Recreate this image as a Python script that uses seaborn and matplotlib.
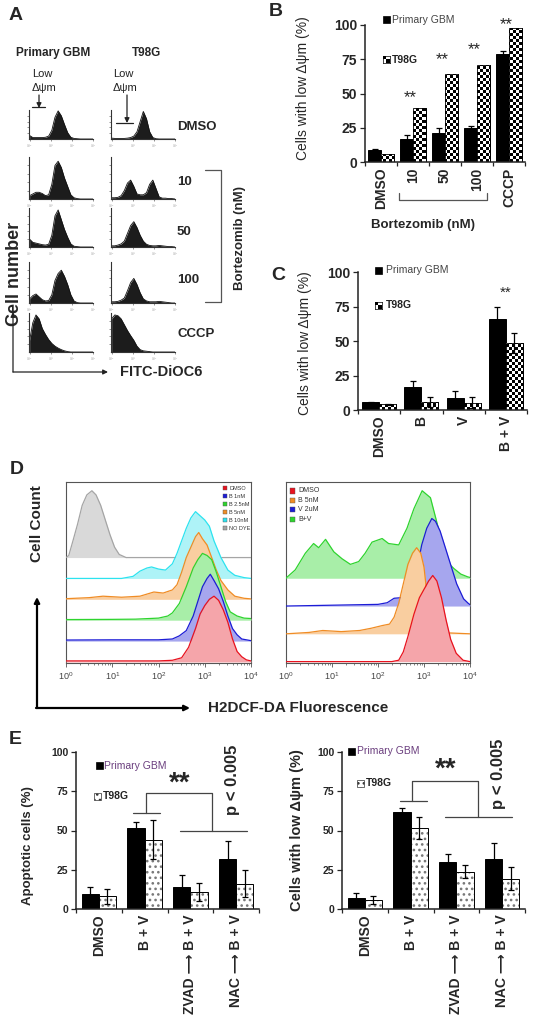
import numpy as np
import pandas as pd
import seaborn as sns
import matplotlib.pyplot as plt
import matplotlib.colors as mcolors
from matplotlib.lines import Line2D
from matplotlib.patches import Rectangle, FancyArrowPatch
from matplotlib.ticker import LogLocator, NullFormatter

W, H = 536, 1034

# --------------------------------------------------------------------------- #
# Data                                                    #
# --------------------------------------------------------------------------- #
# A: DiOC6 histograms, x in decades, height as fraction of the frame
A_X = [0, .15, .3, .45, .6, .75, .9, 1.05, 1.2, 1.35, 1.5, 1.65, 1.8, 1.95,
       2.1, 2.25, 2.4, 2.55, 2.7, 2.85, 3.0]
A_ROWS = ["DMSO", "10", "50", "100", "CCCP"]
A_GBM = [
    [0.12, 0.05, 0.05, 0.05, 0.05, 0.06, 0.1, 0.3, 0.75, 0.97, 0.8, 0.5, 0.22, 0.06, 0.02, 0.01, 0, 0, 0, 0, 0],
    [0.08, 0.12, 0.16, 0.16, 0.13, 0.08, 0.1, 0.35, 0.8, 0.9, 0.75, 0.5, 0.3, 0.1, 0.03, 0.01, 0, 0, 0, 0, 0],
    [0.2, 0.12, 0.1, 0.08, 0.06, 0.05, 0.07, 0.3, 0.8, 0.95, 0.7, 0.45, 0.25, 0.08, 0.02, 0.01, 0, 0, 0, 0, 0],
    [0.1, 0.18, 0.22, 0.15, 0.08, 0.05, 0.06, 0.2, 0.55, 0.72, 0.8, 0.65, 0.45, 0.2, 0.05, 0.01, 0, 0, 0, 0, 0],
    [0.3, 0.75, 0.95, 0.85, 0.6, 0.45, 0.32, 0.22, 0.15, 0.1, 0.06, 0.03, 0.01, 0, 0, 0, 0, 0, 0, 0, 0],
]
A_T98G = [
    [0.03, 0.02, 0.02, 0.02, 0.02, 0.03, 0.05, 0.1, 0.25, 0.6, 0.95, 0.7, 0.25, 0.05, 0.01, 0, 0, 0, 0, 0, 0],
    [0.03, 0.03, 0.04, 0.08, 0.2, 0.38, 0.45, 0.3, 0.12, 0.1, 0.1, 0.15, 0.35, 0.45, 0.25, 0.05, 0.02, 0.02, 0.01, 0.01, 0],
    [0.03, 0.03, 0.05, 0.08, 0.15, 0.35, 0.55, 0.65, 0.5, 0.3, 0.15, 0.07, 0.04, 0.03, 0.03, 0.04, 0.03, 0.02, 0.01, 0.01, 0],
    [0.03, 0.03, 0.04, 0.07, 0.12, 0.3, 0.5, 0.6, 0.45, 0.25, 0.1, 0.05, 0.03, 0.03, 0.03, 0.04, 0.03, 0.02, 0.01, 0, 0],
    [0.85, 0.95, 0.93, 0.85, 0.7, 0.55, 0.42, 0.3, 0.15, 0.06, 0.03, 0.02, 0.01, 0, 0, 0, 0, 0, 0, 0, 0],
]

# B: low mitochondrial potential, bortezomib dose
B_CATS = ["DMSO", "10", "50", "100", "CCCP"]
B_GBM = [9, 17, 21.5, 25, 79]
B_GBM_ERR = [0.5, 2.5, 3, 1.5, 2]
B_T98G = [5.5, 39.5, 64, 71, 98]
B_STARS = [None, 47, 74.5, 82, 100]

# C: bortezomib / vorinostat
C_CATS = ["DMSO", "B", "V", "B + V"]
C_GBM = [5.5, 16.4, 9, 66]
C_GBM_ERR = [0.5, 4.5, 5, 9]
C_T98G = [4, 6, 5.3, 48.5]
C_T98G_ERR = [0.5, 3.5, 4, 7]

# D: H2DCF-DA histograms (x in decades, height in stacking offsets)
D_LEFT_NAMES = ["DMSO", "B 1nM", "B 2.5nM", "B 5nM", "B 10nM", "NO DYE"]
D_LEFT_X = [
    [0, 1, 2, 2.3, 2.5, 2.65, 2.8, 2.9, 3.0, 3.1, 3.2, 3.3, 3.4, 3.5, 3.6, 3.7, 3.8, 3.9, 4.0],
    [0, 1, 2, 2.3, 2.45, 2.6, 2.75, 2.85, 2.95, 3.05, 3.12, 3.2, 3.3, 3.4, 3.5, 3.6, 3.7, 3.8, 4.0],
    [0, 1, 1.5, 2.0, 2.2, 2.3, 2.45, 2.6, 2.75, 2.85, 2.95, 3.05, 3.15, 3.25, 3.35, 3.45, 3.55, 3.7, 3.85, 4.0],
    [0, 0.5, 0.8, 1.2, 1.6, 1.9, 2.1, 2.3, 2.4, 2.5, 2.6, 2.72, 2.8, 2.87, 2.95, 3.05, 3.15, 3.25, 3.35, 3.5, 3.65, 3.85, 4.0],
    [0, 1.2, 1.45, 1.6, 1.75, 1.85, 2.0, 2.15, 2.3, 2.4, 2.5, 2.6, 2.7, 2.8, 2.9, 3.0, 3.1, 3.2, 3.35, 3.5, 3.65, 3.85, 4.0],
    [0, 0.06, 0.15, 0.25, 0.35, 0.45, 0.56, 0.65, 0.75, 0.85, 0.95, 1.05, 1.15, 1.3, 4.0],
]
D_LEFT_H = [
    [0.05, 0.05, 0.05, 0.08, 0.2, 0.7, 1.6, 2.3, 2.7, 3.0, 3.15, 2.95, 2.5, 1.9, 1.1, 0.5, 0.25, 0.1, 0.05],
    [0.05, 0.06, 0.06, 0.1, 0.25, 0.5, 1.2, 1.9, 2.6, 3.0, 3.2, 2.9, 2.5, 1.9, 1.2, 0.6, 0.3, 0.1, 0.02],
    [0.03, 0.04, 0.05, 0.1, 0.2, 0.35, 0.8, 1.6, 2.5, 2.9, 3.2, 3.1, 2.9, 2.3, 1.6, 0.9, 0.4, 0.2, 0.1, 0.08],
    [0.03, 0.08, 0.15, 0.1, 0.15, 0.35, 0.3, 0.45, 0.7, 1.3, 2.0, 2.6, 3.0, 3.2, 2.9, 2.6, 2.0, 1.4, 0.9, 0.45, 0.15, 0.05, 0.02],
    [0.0, 0.0, 0.1, 0.35, 0.5, 0.55, 0.45, 0.4, 0.7, 1.2, 1.8, 2.4, 2.9, 3.2, 3.0, 2.8, 2.5, 1.8, 1.0, 0.4, 0.15, 0.04, 0.0],
    [0, 0.1, 0.8, 1.6, 2.5, 3.0, 3.2, 3.0, 2.5, 1.8, 1.1, 0.5, 0.15, 0, 0],
]
D_RIGHT_NAMES = ["DMSO", "B 5nM", "V 2uM", "B+V"]
D_RIGHT_X = [
    [0, 2.3, 2.45, 2.55, 2.65, 2.78, 2.9, 3.0, 3.1, 3.19, 3.28, 3.38, 3.48, 3.58, 3.7, 3.85, 4.0],
    [0, 0.5, 0.8, 1.2, 1.6, 1.85, 2.1, 2.25, 2.35, 2.45, 2.55, 2.65, 2.75, 2.84, 2.93, 3.0, 3.06, 3.13, 3.2, 3.3, 4.0],
    [0, 1.0, 2.0, 2.2, 2.35, 2.5, 2.7, 2.84, 2.95, 3.06, 3.17, 3.25, 3.35, 3.53, 3.71, 3.86, 3.96, 4.0],
    [0, 0.03, 0.2, 0.42, 0.6, 0.71, 0.86, 1.04, 1.22, 1.4, 1.58, 1.72, 1.87, 2.09, 2.23, 2.45, 2.63, 2.78,
     2.96, 3.14, 3.25, 3.5, 3.65, 3.8, 3.95, 4.0],
]
D_RIGHT_H = [
    [0.0, 0.0, 0.05, 0.35, 0.9, 1.7, 2.3, 2.6, 2.9, 3.1, 2.9, 2.3, 1.5, 0.8, 0.3, 0.05, 0.0],
    [0.0, 0.05, 0.12, 0.08, 0.12, 0.2, 0.3, 0.35, 0.6, 1.1, 1.8, 2.5, 2.9, 3.1, 2.9, 2.4, 1.5, 0.8, 0.3, 0.05, 0.0],
    [0.0, 0.03, 0.06, 0.12, 0.28, 0.3, 0.4, 1.27, 2.2, 2.8, 3.15, 3.05, 2.7, 1.75, 0.8, 0.26, 0.1, 0.05],
    [0.0, 0.05, 0.3, 0.9, 1.25, 1.1, 1.4, 0.95, 0.7, 0.5, 0.6, 0.9, 1.3, 1.43, 1.25, 1.2, 1.8, 2.5,
     3.15, 2.9, 2.2, 0.6, 0.35, 0.15, 0.05, 0.03],
]

# E: apoptosis and low mitochondrial potential with inhibitors
E_CATS = ["DMSO", "B + V", "ZVAD \u27f6 B + V", "NAC \u27f6 B + V"]
E_APO_GBM = [9.4, 51.5, 14, 32]
E_APO_GBM_ERR = [4.3, 4, 7.5, 11.6]
E_APO_T98G = [8, 44, 11, 16]
E_APO_T98G_ERR = [4.7, 12.4, 5.7, 8.6]
E_MMP_GBM = [7.3, 61.8, 29.7, 32]
E_MMP_GBM_ERR = [2.7, 2.7, 5.6, 9.9]
E_MMP_T98G = [5.8, 51.7, 23.7, 19.4]
E_MMP_T98G_ERR = [2.5, 7.1, 4.1, 7.1]

LINES = ["Primary GBM", "T98G"]

# --------------------------------------------------------------------------- #
# Style                                                                       #
# --------------------------------------------------------------------------- #
sns.set_style("ticks")
plt.rcParams['font.family'] = ['Liberation Sans', 'DejaVu Sans']
plt.rcParams['mathtext.fontset'] = 'stix'
plt.rcParams['hatch.linewidth'] = 1.1

fig = plt.figure(figsize=(W / 100, H / 100), dpi=100)


def ax_px(x0, y0, x1, y1):
    return fig.add_axes([x0 / W, 1 - y1 / H, (x1 - x0) / W, (y1 - y0) / H])


def txt(x, y, s, **kw):
    kw.setdefault('ha', 'left')
    kw.setdefault('va', 'center')
    return fig.text(x / W, 1 - y / H, s, **kw)


def line_px(xs, ys, color='#333', lw=0.9):
    fig.add_artist(Line2D([x / W for x in xs], [1 - y / H for y in ys],
                          transform=fig.transFigure, color=color, lw=lw))


def arrow_px(x0, y0, x1, y1, lw=0.9, ms=7, color='#222'):
    fig.add_artist(FancyArrowPatch((x0 / W, 1 - y0 / H), (x1 / W, 1 - y1 / H),
                                   transform=fig.transFigure, arrowstyle='-|>',
                                   mutation_scale=ms, lw=lw, color=color,
                                   shrinkA=0, shrinkB=0))


def rect_px(x, y, w, h, **kw):
    fig.add_artist(Rectangle((x / W, 1 - (y + h) / H), w / W, h / H,
                             transform=fig.transFigure, **kw))


def checker(nx, ny):
    return np.add.outer(np.arange(ny), np.arange(nx)) % 2


def checker_square(x, y, s):
    ax = ax_px(x, y, x + s, y + s)
    ax.imshow(checker(2, 2), cmap='gray', interpolation='nearest', aspect='auto')
    ax.set_xticks([])
    ax.set_yticks([])
    for sp in ax.spines.values():
        sp.set_linewidth(0.5)
        sp.set_color('black')


def checker_bars(ax, patches, cell=3.0):
    bb = ax.get_position()
    nx = int(round(bb.width * W / cell))
    ny = int(round(bb.height * H / cell))
    ext = list(ax.get_xlim()) + list(ax.get_ylim())
    for p in patches:
        im = ax.imshow(checker(nx, ny), cmap='gray', extent=ext, origin='lower',
                       interpolation='nearest', aspect='auto', zorder=p.get_zorder() + 0.1)
        im.set_clip_path(p)
        ax.add_patch(Rectangle(p.get_xy(), p.get_width(), p.get_height(),
                               fill=False, edgecolor='black', lw=0.6,
                               zorder=p.get_zorder() + 0.2))
    ax.set_xlim(ext[:2])
    ax.set_ylim(ext[2:])


def bar_panel(ax, cats, gbm, t98g, gbm_err, t98g_err, pattern, tick_fs, label_fs,
              width=0.8):
    n = len(cats)
    df = pd.DataFrame({'cond': cats * 2, 'val': gbm + t98g,
                       'line': [LINES[0]] * n + [LINES[1]] * n})
    sns.barplot(data=df, x='cond', y='val', hue='line', order=cats,
                hue_order=LINES, palette={LINES[0]: 'black', LINES[1]: 'white'},
                edgecolor='black', linewidth=0.7, width=width, errorbar=None,
                legend=False, ax=ax)
    ax.set_xlim(-0.5, n - 0.5)
    ax.set_ylim(0, 100)
    if pattern == 'checker':
        checker_bars(ax, list(ax.containers[1]))
    else:
        for p in ax.containers[1]:
            p.set_hatch(pattern)
            p._hatch_color = mcolors.to_rgba('#777777')
    for cont, errs in zip(ax.containers, [gbm_err, t98g_err]):
        for p, e in zip(cont, errs):
            if e:
                ax.errorbar(p.get_x() + p.get_width() / 2, p.get_height(), yerr=e,
                            fmt='none', ecolor='black', elinewidth=0.9,
                            capsize=2.5, capthick=0.9, zorder=5)
    ax.set_yticks([0, 25, 50, 75, 100])
    ax.set_xticks(range(n))
    ax.set_xticklabels(cats, rotation=90, fontweight='bold', fontsize=label_fs)
    ax.set_xticks(np.arange(-0.5, n), minor=True)
    ax.tick_params(axis='x', which='major', length=0, pad=4)
    ax.tick_params(axis='x', which='minor', length=3, width=0.9, direction='out')
    ax.tick_params(axis='y', length=3.5, width=0.9, labelsize=tick_fs, pad=2)
    for lab in ax.get_yticklabels():
        lab.set_fontweight('bold')
    ax.set_xlabel('')
    ax.set_ylabel('')
    sns.despine(ax=ax)
    for s in ('left', 'bottom'):
        ax.spines[s].set_linewidth(1.1)
        ax.spines[s].set_color('#222')


# --------------------------------------------------------------------------- #
# Panel A                                                                     #
# --------------------------------------------------------------------------- #
txt(16, 15, "A", fontsize=14, fontweight='bold', ha='center')
txt(53, 53, "Primary GBM", fontsize=8.5, fontweight='bold', ha='center')
txt(146, 53, "T98G", fontsize=8.5, fontweight='bold', ha='center')
for x in (32, 113):
    txt(x, 74, "Low", fontsize=8, color='#222')
    txt(x, 88, "\u0394\u03c8m", fontsize=8, color='#222')
line_px([32, 45], [107, 107], color='#222')
arrow_px(39, 95, 39, 108)
line_px([116, 133], [123, 123], color='#222')
arrow_px(127, 95, 127, 123)

A_COLS = [(29, 93), (111, 175)]
A_ROW_Y = [(110, 139), (157, 199), (208, 247), (262, 303), (313, 352)]
for (x0, x1), data in zip(A_COLS, [A_GBM, A_T98G]):
    for (y0, y1), h in zip(A_ROW_Y, data):
        ax = ax_px(x0, y0, x1, y1)
        ax.fill_between(A_X, h, color='#1c1c1c', lw=0)
        sns.lineplot(x=A_X, y=h, ax=ax, color='#111111', lw=0.6, estimator=None)
        ax.set_xlim(-0.03, 3.0)
        ax.set_ylim(0, 1.0)
        ax.set_xticks([0, 1, 2, 3])
        ax.set_xticklabels([r'$10^0$', r'$10^1$', r'$10^2$', r'$10^3$'])
        ax.set_yticks([0.2, 0.4, 0.6, 0.8])
        ax.set_yticklabels([])
        ax.tick_params(axis='both', length=1.5, width=0.5, color='#666',
                       labelsize=2.5, labelcolor='#999', pad=0.5)
        ax.set_xlabel('')
        ax.set_ylabel('')
        sns.despine(ax=ax)
        for s in ('left', 'bottom'):
            ax.spines[s].set_linewidth(0.8)
            ax.spines[s].set_color('#333')

for y, s in zip([127, 182, 232, 280, 334], A_ROWS):
    txt(177, y, s, fontsize=9.5, fontweight='bold')
line_px([205, 221, 221, 205], [170, 170, 302, 302], color='#555')
txt(240, 238, "Bortezomib (nM)", fontsize=9.5, fontweight='bold', rotation=90, ha='center')
txt(15, 274, "Cell number", fontsize=13, fontweight='bold', rotation=90, ha='center')
arrow_px(13, 372, 13, 312)
arrow_px(13, 372, 108, 372)
txt(120, 372, "FITC-DiOC6", fontsize=10.5, fontweight='bold')

# --------------------------------------------------------------------------- #
# Panel B                                                                     #
# --------------------------------------------------------------------------- #
txt(276, 12, "B", fontsize=14, fontweight='bold', ha='center')
axB = ax_px(365, 25, 525, 162)
bar_panel(axB, B_CATS, B_GBM, B_T98G, B_GBM_ERR, [0] * 5, 'checker', 10, 10)
for i, y in enumerate(B_STARS):
    if y is not None:
        axB.text(i - 0.1, y, "**", ha='center', va='center', fontsize=12)
txt(303, 88, "Cells with low \u0394\u03c8m (%)", fontsize=10, rotation=90, ha='center')
rect_px(383, 16, 7, 7, facecolor='black', edgecolor='black', lw=0.5)
txt(392, 20, "Primary GBM", fontsize=7.5, color='#444')
checker_square(383, 56, 7)
txt(392, 60, "T98G", fontsize=7.5, fontweight='bold', color='#222')
line_px([399, 399, 487, 487], [193, 200, 200, 193], color='#555')
txt(423, 225, "Bortezomib (nM)", fontsize=9.5, fontweight='bold', ha='center')

# --------------------------------------------------------------------------- #
# Panel C                                                                     #
# --------------------------------------------------------------------------- #
txt(278, 275, "C", fontsize=14, fontweight='bold', ha='center')
axC = ax_px(358, 272, 527, 410)
bar_panel(axC, C_CATS, C_GBM, C_T98G, C_GBM_ERR, C_T98G_ERR, 'checker', 10, 10)
axC.text(3, 85, "**", ha='center', va='center', fontsize=11)
txt(305, 343, "Cells with low \u0394\u03c8m (%)", fontsize=10, rotation=90, ha='center')
rect_px(375, 267, 7, 7, facecolor='black', edgecolor='black', lw=0.5)
txt(386, 270, "Primary GBM", fontsize=7.5, color='#444')
checker_square(375, 302, 7)
txt(386, 305, "T98G", fontsize=7.5, fontweight='bold', color='#222')

# --------------------------------------------------------------------------- #
# Panel D                                                                     #
# --------------------------------------------------------------------------- #
D_COLORS = {"DMSO": ('#e8121e', '#f5a5aa'), "B 1nM": ('#1c1cd6', '#a6a6ee'),
            "B 2.5nM": ('#2ed42e', '#a8eea8'), "B 5nM": ('#f08c24', '#f9cea0'),
            "B 10nM": ('#2ce3ef', '#aef3f7'), "NO DYE": ('#a5a5a5', '#d9d9d9'),
            "V 2uM": ('#1c1cd6', '#a6a6ee'), "B+V": ('#2ed42e', '#a8eea8')}

txt(17, 470, "D", fontsize=14, fontweight='bold', ha='center')


def flow_panel(ax, names, xs, hs, ymax):
    for k in reversed(range(len(names))):
        line_c, fill_c = D_COLORS[names[k]]
        xv = np.power(10.0, xs[k])
        yv = np.array(hs[k]) + k
        ax.fill_between(xv, k, yv, color=fill_c, lw=0, zorder=2 * (10 - k))
        ax.plot(xv, yv, color=line_c, lw=0.9, zorder=2 * (10 - k) + 1)
    ax.set_xscale('log')
    ax.set_xlim(1, 1e4)
    ax.set_ylim(-0.05, ymax)
    ax.set_yticks([])
    ax.xaxis.set_major_locator(LogLocator(base=10, numticks=10))
    ax.xaxis.set_minor_locator(LogLocator(base=10, subs=np.arange(2, 10), numticks=10))
    ax.xaxis.set_minor_formatter(NullFormatter())
    ax.tick_params(axis='x', which='major', length=3, width=0.6, color='#555',
                   labelsize=6.5, labelcolor='#444', pad=2)
    ax.tick_params(axis='x', which='minor', length=1.5, width=0.5, color='#555')
    for s in ax.spines.values():
        s.set_visible(True)
        s.set_linewidth(0.8)
        s.set_color('#555')


axDL = ax_px(66, 482, 251, 663)
flow_panel(axDL, D_LEFT_NAMES, D_LEFT_X, D_LEFT_H, 181 / 21)
axDR = ax_px(286, 482, 470, 663)
flow_panel(axDR, D_RIGHT_NAMES, D_RIGHT_X, D_RIGHT_H, 181 / 28)

for i, name in enumerate(D_LEFT_NAMES):
    rect_px(223, 486 + 8 * i, 4, 4, facecolor=D_COLORS[name][0], edgecolor='#555', lw=0.3)
    txt(229, 488 + 8 * i, name, fontsize=4, color='#333')
for i, name in enumerate(D_RIGHT_NAMES):
    rect_px(290, 488.5 + 9.4 * i, 5, 5, facecolor=D_COLORS[name][0], edgecolor='#555', lw=0.3)
    txt(298, 491 + 9.4 * i, name, fontsize=5, color='#333')

txt(37, 524, "Cell Count", fontsize=11, fontweight='bold', rotation=90, ha='center')
arrow_px(37, 708, 37, 597, lw=1.6, ms=8, color='black')
arrow_px(36, 708, 190, 708, lw=1.6, ms=8, color='black')
txt(208, 708, "H2DCF-DA Fluorescence", fontsize=11, fontweight='bold')

# --------------------------------------------------------------------------- #
# Panel E                                                                     #
# --------------------------------------------------------------------------- #
txt(15, 740, "E", fontsize=14, fontweight='bold', ha='center')

axEL = ax_px(76, 752, 259, 909)
bar_panel(axEL, E_CATS, E_APO_GBM, E_APO_T98G, E_APO_GBM_ERR, E_APO_T98G_ERR,
          '...', 7.5, 10, width=0.75)
axER = ax_px(342, 752, 525, 909)
bar_panel(axER, E_CATS, E_MMP_GBM, E_MMP_T98G, E_MMP_GBM_ERR, E_MMP_T98G_ERR,
          '...', 7.5, 10, width=0.75)

for ax, b in [(axEL, (61, 74, 50, 0.75, 1.34, 1.03, 2.47, 1.77, 3.24, 80, 82)),
              (axER, (69, 81.5, 58.5, 0.77, 1.36, 1.03, 2.47, 1.75, 3.22, 88.5, 86))]:
    y1, y2, y3, xa, xb, xm, xr, xc0, xc1, ys, yp = b
    kw = dict(color='#444', lw=0.9, clip_on=False)
    ax.plot([xa, xb], [y1, y1], **kw)
    ax.plot([xm, xm, xr, xr], [y1, y2, y2, y3], **kw)
    ax.plot([xc0, xc1], [y3, y3], **kw)
    ax.text(1.77, ys, "**", ha='center', va='center', fontsize=20, fontweight='bold',
            clip_on=False)
    ax.text(2.91, yp, "p < 0.005", ha='center', va='center', rotation=90,
            fontsize=12, fontweight='bold', clip_on=False)

txt(28, 846, "Apoptotic cells (%)", fontsize=9.5, fontweight='bold', rotation=90, ha='center')
txt(297, 830, "Cells with low \u0394\u03c8m (%)", fontsize=10.5, fontweight='bold',
    rotation=90, ha='center')

rect_px(96, 762, 6.5, 6.5, facecolor='black', edgecolor='black', lw=0.5)
txt(104, 766, "Primary GBM", fontsize=7.5, color='#6b3f7f')
rect_px(94, 793, 6.5, 6.5, facecolor='white', edgecolor='#333', lw=0.5, hatch='...')
txt(103, 796, "T98G", fontsize=7.5, fontweight='bold', color='#222')
rect_px(348, 748, 6.5, 6.5, facecolor='black', edgecolor='black', lw=0.5)
txt(357, 751, "Primary GBM", fontsize=7.5, color='#6b3f7f')
rect_px(357, 780, 6.5, 6.5, facecolor='white', edgecolor='#333', lw=0.5, hatch='...')
txt(366, 783, "T98G", fontsize=7.5, fontweight='bold', color='#222')

fig.savefig("out.png", dpi=100, facecolor='white')
